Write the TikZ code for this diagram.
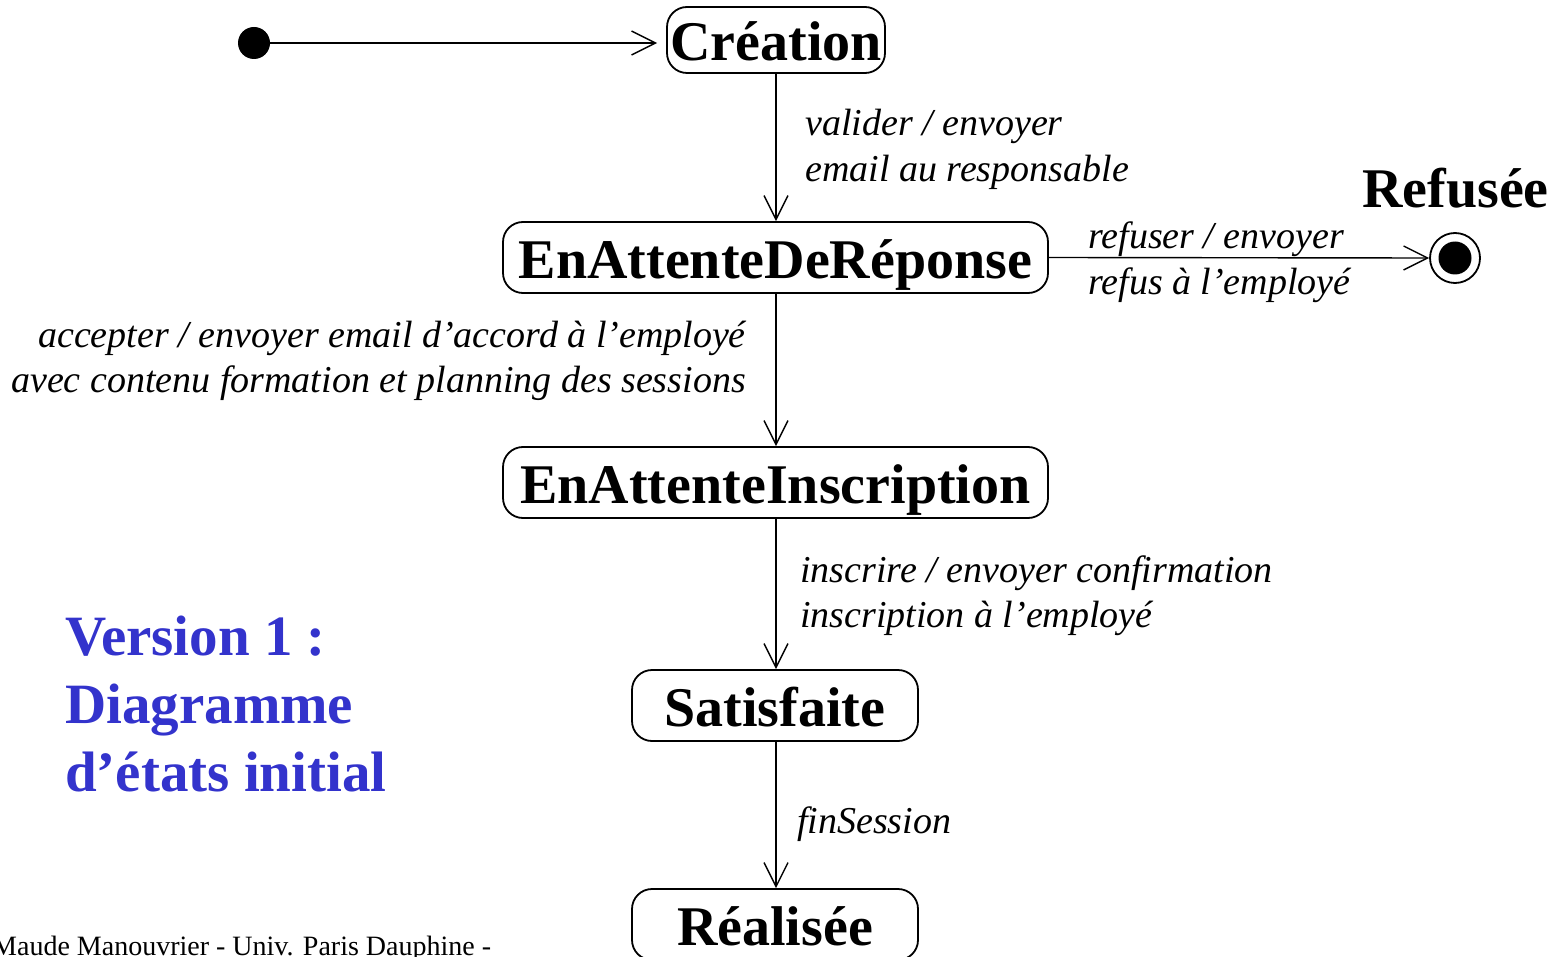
\documentclass[tikz,border=0pt]{standalone}
\usepackage{fontspec}
\setmainfont{Liberation Serif}
\usetikzlibrary{arrows.meta}
\definecolor{titleblue}{RGB}{51,51,204}
\tikzset{
  state/.style={draw, line width=1.8pt, rounded corners=20pt,
    font=\fontsize{56}{60}\selectfont\bfseries, text height=42pt, text depth=0pt,
    inner sep=0pt, minimum height=71pt},
  trans/.style={line width=1.4pt, -{Straight Barb[length=24pt,width=24pt,line width=1.4pt]}},
  lab/.style={font=\fontsize{38}{45}\selectfont\itshape, inner sep=0pt, anchor=base west},
  labr/.style={lab, anchor=base east},
  title/.style={font=\fontsize{57}{68}\selectfont\bfseries, text=titleblue, inner sep=0pt, anchor=base west},
}
\begin{document}
\begin{tikzpicture}[x=1pt,y=-1pt]
\useasboundingbox (0,0) rectangle (1565,957);
% states
\node[state, minimum width=218pt, minimum height=66pt] (cre) at (776,40) {Création};
\node[state, minimum width=545pt] (rep) at (775.5,257.5) {EnAttenteDeRéponse};
\node[state, minimum width=545pt] (ins) at (775.5,482.5) {EnAttenteInscription};
\node[state, minimum width=286pt] (sat) at (775,705.5) {Satisfaite};
\node[state, minimum width=286pt] (rea) at (775,924.5) {Réalisée};
% pseudo states
\node[circle, fill, minimum size=32pt, inner sep=0pt] (init) at (254,43) {};
\node[circle, draw, line width=1.8pt, minimum size=50pt, inner sep=0pt] (fin) at (1455,258) {};
\node[circle, fill, minimum size=33pt, inner sep=0pt] (findot) at (fin.center) {};
\node[font=\fontsize{56}{60}\selectfont\bfseries, inner sep=0pt, anchor=base west] (refl) at (1362,208) {Refusée};
% transitions
\coordinate (initend) at ([xshift=-9pt]cre.west |- init);
\draw[trans] (init) -- (initend);
\draw[trans] (cre.south -| 776,0) -- (rep.north -| 776,0);
\draw[trans] (rep.east) -- (fin.west);
\draw[trans] (rep.south -| 776,0) -- (ins.north -| 776,0);
\draw[trans] (ins.south -| 776,0) -- (sat.north -| 776,0);
\draw[trans] (sat.south -| 776,0) -- (rea.north -| 776,0);
% labels
\node[lab] (l1a) at (805,136) {valider / envoyer};
\node[lab] (l1b) at (805,182) {email au responsable};
\node[lab] (l2a) at (1088,249) {refuser / envoyer};
\node[lab] (l2b) at (1088,295) {refus à l’employé};
\node[labr] (l3a) at (746,347) {accepter / envoyer email d’accord à l’employé};
\node[labr] (l3b) at (746,392) {avec contenu formation et planning des sessions};
\node[lab] (l4a) at (800,582) {inscrire / envoyer confirmation};
\node[lab] (l4b) at (800,627) {inscription à l’employé};
\node[lab] (l5) at (797,833) {finSession};
% title
\node[title] (t1) at (65,655) {Version 1 :};
\node[title] (t2) at (65,723) {Diagramme};
\node[title] (t3) at (65,791) {d’états initial};
% footer
\node[font=\fontsize{28}{30}\selectfont, inner sep=0pt, anchor=base west] (foot) at (-8,955) {Maude Manouvrier - Univ. Paris Dauphine -};
\end{tikzpicture}
\end{document}
